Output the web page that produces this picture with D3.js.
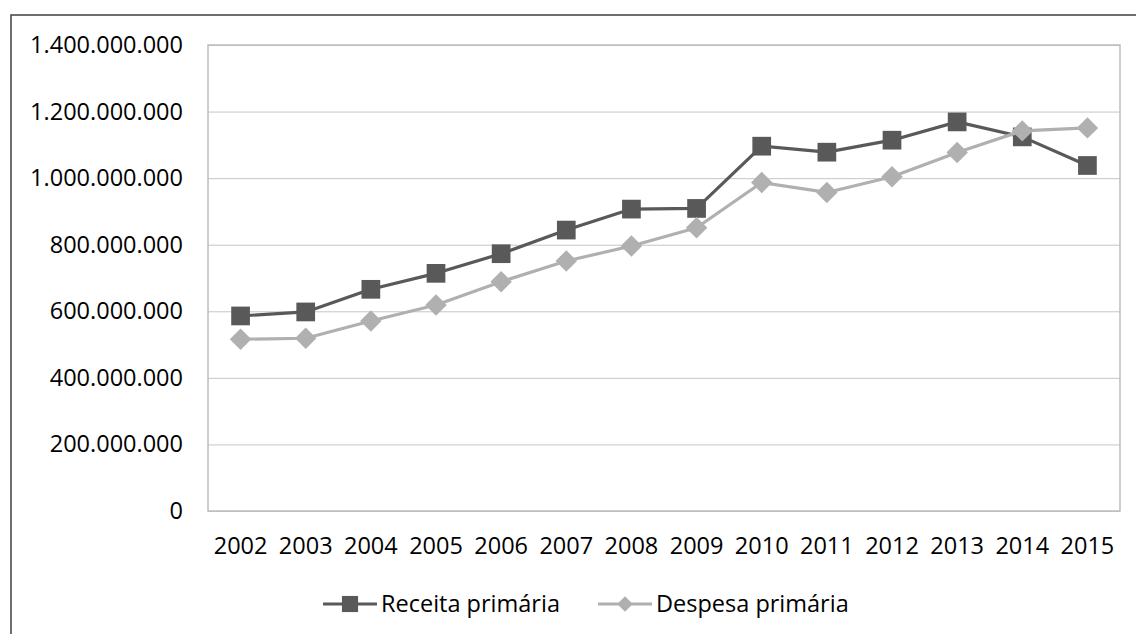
<!DOCTYPE html>
<html lang="pt">
<head>
<meta charset="utf-8">
<title>Receita e despesa primária</title>
<script src="https://d3js.org/d3.v7.min.js"></script>
<style>
  body { margin: 0; background: #fff; }
  svg text { font-family: "Open Sans", sans-serif; fill: #000; }
</style>
</head>
<body>
<div id="chart"></div>
<script>
var anos = ["2002","2003","2004","2005","2006","2007","2008","2009","2010","2011","2012","2013","2014","2015"];
var receita = [586e6, 598e6, 666e6, 714e6, 773e6, 844e6, 907e6, 909e6, 1096e6, 1078e6, 1114e6, 1169e6, 1124e6, 1038e6];
var despesa = [516e6, 519e6, 571e6, 619e6, 689e6, 751e6, 796e6, 851e6, 987e6, 957e6, 1004e6, 1077e6, 1142e6, 1151e6];
var yTicks = [0, 200e6, 400e6, 600e6, 800e6, 1000e6, 1200e6, 1400e6];
var nomes = ["Receita primária", "Despesa primária"];

var W = 1136, H = 634;
var m = {left: 208, right: 1120, top: 45, bottom: 511};

var svg = d3.select("#chart").append("svg").attr("width", W).attr("height", H);

// chart frame (only top and left visible)
svg.append("path")
  .attr("d", "M11," + (H + 5) + "V15H" + (W + 5))
  .attr("fill", "none").attr("stroke", "#404040").attr("stroke-width", 1.5);

var x = d3.scaleBand().domain(anos).range([m.left, m.right]);
var y = d3.scaleLinear().domain([0, 1400e6]).range([m.bottom, m.top]);

// formato pt-BR: 1.400.000.000
var fmt = function (v) { return d3.format(",")(v).replace(/,/g, "."); };

var yAxis = svg.append("g")
  .attr("transform", "translate(" + m.left + ",0)")
  .call(d3.axisLeft(y).tickValues(yTicks).tickSize(-(m.right - m.left)).tickPadding(25).tickFormat(fmt));
yAxis.select(".domain").remove();
yAxis.selectAll(".tick line").attr("stroke", "#c6c6c6").attr("stroke-width", 1);
yAxis.selectAll("text").style("font-size", "23.5px").attr("fill", "#000");

// plot border
svg.append("rect")
  .attr("x", m.left).attr("y", m.top)
  .attr("width", m.right - m.left).attr("height", m.bottom - m.top)
  .attr("fill", "none").attr("stroke", "#bdbdbd").attr("stroke-width", 1.5);

var xAxis = svg.append("g")
  .attr("transform", "translate(0," + m.bottom + ")")
  .call(d3.axisBottom(x).tickSize(0).tickPadding(26));
xAxis.select(".domain").remove();
xAxis.selectAll("text").style("font-size", "23.5px").attr("fill", "#000");

var cx = function (d, i) { return x(anos[i]) + x.bandwidth() / 2; };
var line = d3.line().x(cx).y(function (d) { return y(d); });

// square turned 45 degrees, like Excel's diamond marker
var diamond = {
  draw: function (ctx, size) {
    var r = Math.sqrt(size / 2);
    ctx.moveTo(0, -r); ctx.lineTo(r, 0); ctx.lineTo(0, r); ctx.lineTo(-r, 0); ctx.closePath();
  }
};

var series = [
  {name: nomes[0], vals: receita, color: "#595959", shape: d3.symbolSquare, size: 350, legSize: 260},
  {name: nomes[1], vals: despesa, color: "#b0b0b0", shape: diamond, size: 230, legSize: 120}
];

series.forEach(function (s) {
  svg.append("path").datum(s.vals)
    .attr("d", line).attr("fill", "none")
    .attr("stroke", s.color).attr("stroke-width", 3.2).attr("stroke-linejoin", "round");
  svg.selectAll(null).data(s.vals).enter().append("path")
    .attr("d", d3.symbol().type(s.shape).size(s.size))
    .attr("transform", function (d, i) { return "translate(" + cx(d, i) + "," + y(d) + ")"; })
    .attr("fill", s.color);
});

// legend
var legX = [323, 598], legY = 604;
series.forEach(function (s, i) {
  var g = svg.append("g").attr("transform", "translate(" + legX[i] + "," + legY + ")");
  g.append("line").attr("x1", 0).attr("x2", 54).attr("stroke", s.color).attr("stroke-width", 3.2);
  g.append("path").attr("d", d3.symbol().type(s.shape).size(s.legSize)).attr("transform", "translate(27,0)").attr("fill", s.color);
  g.append("text").attr("x", 58).attr("dy", "0.35em").style("font-size", "23.5px").text(s.name);
});
</script>
</body>
</html>
